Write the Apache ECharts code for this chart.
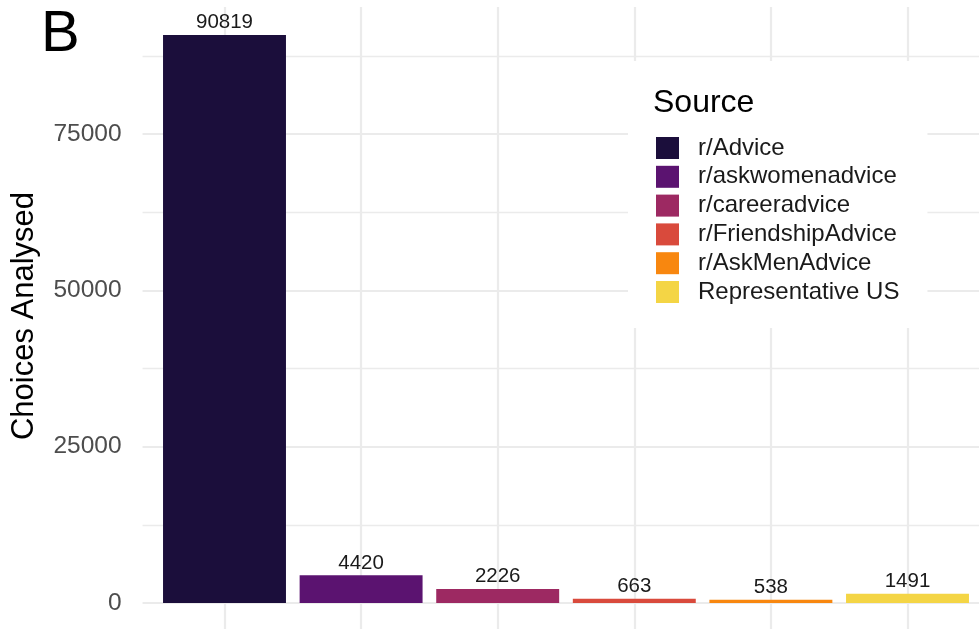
<!DOCTYPE html>
<html>
<head>
<meta charset="utf-8">
<script src="https://cdn.jsdelivr.net/npm/echarts@6/dist/echarts.min.js"></script>
<style>
html,body{margin:0;padding:0;background:#fff;overflow:hidden;width:979px;height:629px;position:relative;}
#chart{position:absolute;left:0;top:-60px;width:1100px;height:840px;}
</style>
</head>
<body>
<div id="chart"></div>
<script>
// ---- data ----
const sources = ['r/Advice', 'r/askwomenadvice', 'r/careeradvice', 'r/FriendshipAdvice', 'r/AskMenAdvice', 'Representative US'];
const choicesAnalysed = [90819, 4420, 2226, 663, 538, 1491];
const yTickLabels = [0, 25000, 50000, 75000];
const yAxisTitle = 'Choices Analysed';
const legendTitle = 'Source';
const panelLabel = 'B';

// ---- style ----
const palette = ['#1B0E3B', '#5B1370', '#9D2962', '#D94A3C', '#F8870F', '#F4D545'];
const FONT = '"Liberation Sans", Arial, sans-serif';
const GRID_COLOR = '#EBEBEB';

// layout (pixels); chart canvas is shifted up by OY so plot can extend past the page edges
const OY = 60;
const zeroY = 603 + OY, pxPerUnit = (603 - 134) / 75000;
const yMin = -25000, yMax = 100000;
const gTop = zeroY - yMax * pxPerUnit;
const gHeight = (yMax - yMin) * pxPerUnit;
const band = 136.6, firstCenter = 224.5;

const chart = echarts.init(document.getElementById('chart'), null, {renderer: 'canvas'});

const series = sources.map((name, i) => ({
  name: name,
  type: 'bar',
  stack: 'all',
  xAxisIndex: 1,
  yAxisIndex: 1,
  barWidth: '90%',
  itemStyle: {color: palette[i]},
  label: {
    show: true,
    position: 'top',
    distance: 2,
    fontFamily: FONT,
    fontSize: 20.5,
    color: '#1a1a1a'
  },
  data: sources.map((s, j) => (j === i ? choicesAnalysed[i] : null))
}));

const option = {
  backgroundColor: '#fff',
  animation: false,
  grid: [
    // horizontal gridlines + y tick labels
    {left: firstCenter - 0.6 * band, width: 6.2 * band, top: gTop, height: gHeight, containLabel: false},
    // bars
    {left: firstCenter - 0.5 * band, width: 6 * band, top: gTop, height: gHeight, containLabel: false},
    // vertical gridlines
    {left: firstCenter - band, width: 7 * band, top: 7 + OY, height: 700, containLabel: false}
  ],
  xAxis: [
    {gridIndex: 0, type: 'value', min: 0, max: 1, show: false},
    {gridIndex: 1, type: 'category', data: sources, axisLine: {show: false}, axisTick: {show: false}, axisLabel: {show: false}, splitLine: {show: false}},
    {gridIndex: 2, type: 'value', min: 0, max: 7, interval: 1, axisLine: {show: false}, axisTick: {show: false}, axisLabel: {show: false},
      splitLine: {show: true, showMinLine: false, showMaxLine: false, lineStyle: {color: GRID_COLOR, width: 2.2}}}
  ],
  yAxis: [
    {gridIndex: 0, type: 'value', min: yMin, max: yMax, interval: 25000,
      axisLine: {show: false}, axisTick: {show: false},
      axisLabel: {
        margin: 21, fontFamily: FONT, fontSize: 24.5, color: '#4D4D4D',
        formatter: v => (yTickLabels.indexOf(v) >= 0 ? String(v) : '')
      },
      splitLine: {show: true, lineStyle: {color: GRID_COLOR, width: 2.2}},
      minorTick: {show: false, splitNumber: 2},
      minorSplitLine: {show: true, lineStyle: {color: GRID_COLOR, width: 1.3}}
    },
    {gridIndex: 1, type: 'value', min: yMin, max: yMax, show: false, splitLine: {show: false}},
    {gridIndex: 2, type: 'value', min: 0, max: 1, show: false, splitLine: {show: false}}
  ],
  legend: {
    orient: 'vertical',
    left: 628,
    top: 61 + OY,
    padding: [75, 28, 24, 28],
    backgroundColor: '#fff',
    itemWidth: 23,
    itemHeight: 22,
    itemGap: 4.8,
    icon: 'rect',
    data: sources,
    textStyle: {fontFamily: FONT, fontSize: 24, lineHeight: 22, color: '#1a1a1a', padding: [0, 0, 0, 14]},
    itemStyle: {borderWidth: 0}
  },
  title: {
    text: legendTitle,
    left: 653,
    top: 86 + OY,
    padding: 0,
    textStyle: {fontFamily: FONT, fontSize: 32, fontWeight: 'normal', color: '#000', lineHeight: 34}
  },
  graphic: [
    {type: 'text', x: 24, y: 316 + OY, rotation: Math.PI / 2,
      style: {text: yAxisTitle, font: '31px ' + FONT, fill: '#000', textAlign: 'center', textVerticalAlign: 'middle'}},
    {type: 'text', x: 41, y: 35 + OY,
      style: {text: panelLabel, font: '58px ' + FONT, fill: '#000', textAlign: 'left', textVerticalAlign: 'middle'}}
  ],
  series: series
};
chart.setOption(option);
</script>
</body>
</html>
